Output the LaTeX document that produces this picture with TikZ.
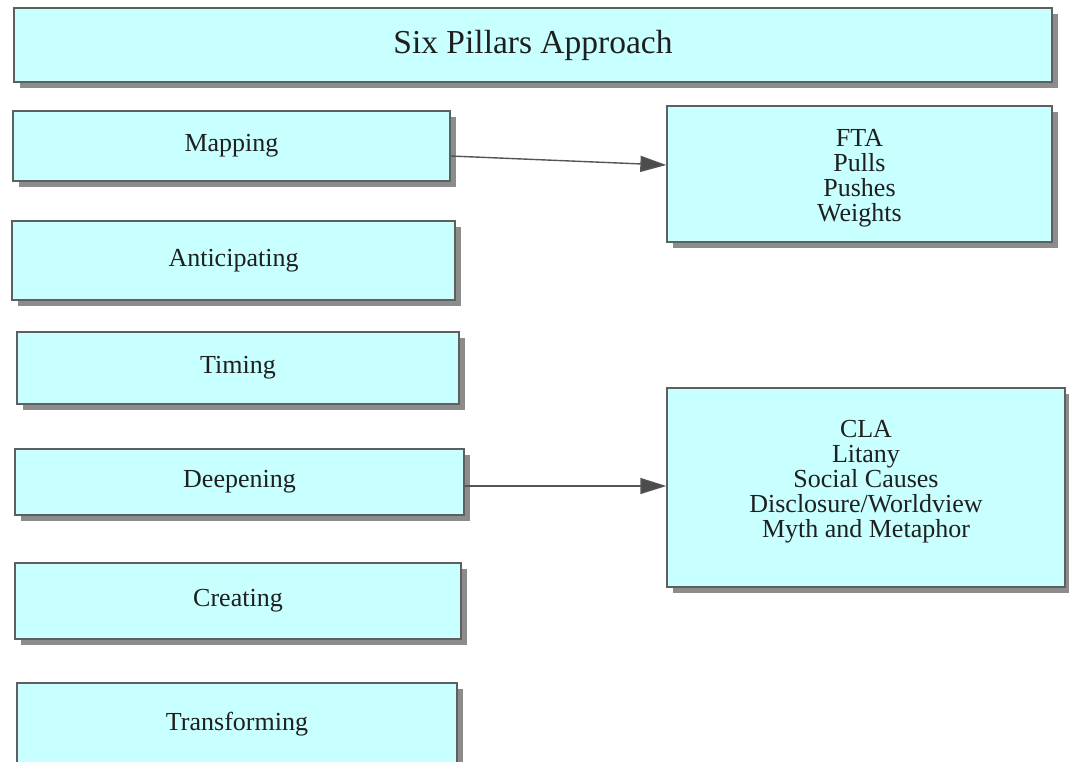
\documentclass[tikz,border=0pt]{standalone}
\usepackage{fontspec}
\setmainfont{Liberation Serif}
\usetikzlibrary{shadows,arrows.meta}
\definecolor{boxfill}{RGB}{200,255,255}
\definecolor{boxline}{RGB}{95,95,95}
\definecolor{shadowgray}{RGB}{140,140,140}
\definecolor{arrowgray}{RGB}{85,85,85}
\begin{document}
\begin{tikzpicture}[x=1pt,y=-1pt,
  box/.style={draw=boxline, line width=1.3pt, fill=boxfill, text=black!88,
    font=\fontsize{26}{25}\selectfont, align=center, inner sep=0pt,
    drop shadow={shadow xshift=5.5pt, shadow yshift=-5.5pt, fill=shadowgray, opacity=1}},
  txt/.style={text=black!88, font=\fontsize{26}{25}\selectfont, align=center, inner sep=0pt},
  arr/.style={draw=arrowgray, line width=1.4pt, -{Triangle[length=26pt,width=16pt,fill=arrowgray!90!black]}}]
\useasboundingbox (0,0) rectangle (1069,761);
\clip (0,0) rectangle (1069,761);
\node[box, minimum width=1038pt, minimum height=74pt, font=\fontsize{33.5}{33.5}\selectfont] (title) at (533,45) {\raisebox{-1.5pt}{Six Pillars Approach}};
\node[box, minimum width=437pt, minimum height=70pt] (map) at (231.5,146) {Mapping};
\node[box, minimum width=443pt, minimum height=79pt] (ant) at (233.5,260.5) {Anticipating};
\node[box, minimum width=442pt, minimum height=72pt] (tim) at (238,368) {Timing};
\node[box, minimum width=449pt, minimum height=66pt] (dp) at (239.5,482) {Deepening};
\node[box, minimum width=446pt, minimum height=76pt] (cre) at (238,601) {Creating};
\node[box, minimum width=440pt, minimum height=82pt] (tra) at (237,724) {Transforming};
\node[box, minimum width=385pt, minimum height=136pt] (fta) at (859.5,174) {};
\node[txt] (ftatext) at ([yshift=-4.5pt]fta.center) {FTA\\Pulls\\Pushes\\Weights};
\node[box, minimum width=398pt, minimum height=199pt] (cla) at (866,487.5) {};
\node[txt] (clatext) at ([yshift=5.5pt]cla.center) {CLA\\Litany\\Social Causes\\Disclosure/Worldview\\Myth and Metaphor};
\draw[arr] ([yshift=-10pt]map.east) -- ([yshift=9pt]fta.west);
\draw[arr] ([yshift=-4pt]dp.east) -- ([yshift=-4pt]dp.east -| cla.west);
\end{tikzpicture}
\end{document}
